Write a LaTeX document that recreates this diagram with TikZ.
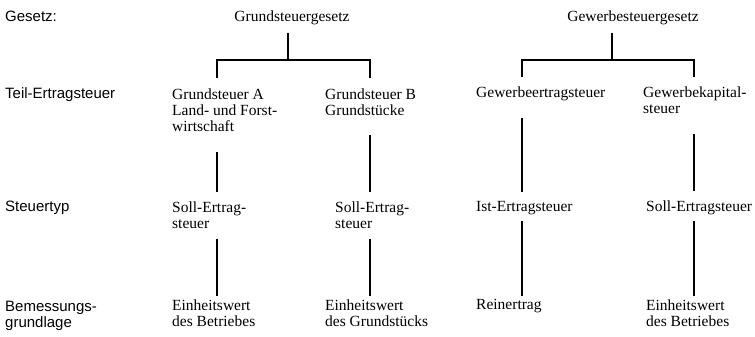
\documentclass[tikz,border=0pt]{standalone}
\usepackage{fontspec}
\setmainfont{Liberation Serif}
\newfontfamily\labelfont{Liberation Sans}
\begin{document}
\begin{tikzpicture}[x=1pt,y=-1pt,
    every node/.style={inner sep=0pt,anchor=base west,align=left,font=\fontsize{15.5}{16}\selectfont},
    rowlabel/.style={font=\labelfont\fontsize{15}{16}\selectfont},
    tie/.style={line width=1.1pt}]
    \useasboundingbox (0,0) rectangle (755,337);

    % row labels (base = last line)
    \node[rowlabel] (lgesetz) at (5,22) {Gesetz:};
    \node[rowlabel] (lteil) at (5,98) {Teil-Ertragsteuer};
    \node[rowlabel] (ltyp) at (5,211) {Steuertyp};
    \node[rowlabel] (lbem) at (5,327) {Bemessungs-\\grundlage};

    % laws
    \node[anchor=base] (gg) at (292,22) {Grundsteuergesetz};
    \node[anchor=base] (gw) at (633,22) {Gewerbesteuergesetz};

    % columns
    \coordinate (c1) at (217,0);
    \coordinate (c2) at (370,0);
    \coordinate (c3) at (522,0);
    \coordinate (c4) at (694,0);
    \coordinate (j1) at (288,60);
    \coordinate (j2) at (612,60);

    \node (ga) at (172,131) {Grundsteuer A\\Land- und Forst-\\wirtschaft};
    \node (gb) at (325,115) {Grundsteuer B\\Grundst\"ucke};
    \node (ge) at (476,97) {Gewerbeertragsteuer};
    \node (gk) at (643,113) {Gewerbekapital-\\steuer};

    \node (sa) at (172,228) {Soll-Ertrag-\\steuer};
    \node (sb) at (335,228) {Soll-Ertrag-\\steuer};
    \node (ie) at (476,211) {Ist-Ertragsteuer};
    \node (sk) at (646,211) {Soll-Ertragsteuer};

    \node (ea) at (172,326) {Einheitswert\\des Betriebes};
    \node (eb) at (325,326) {Einheitswert\\des Grundst\"ucks};
    \node (re) at (476,309) {Reinertrag};
    \node (ek) at (646,326) {Einheitswert\\des Betriebes};

    % tree
    \draw[tie,shorten <=7pt] (gg.south -| j1) -- (j1);
    \draw[tie,shorten <=10pt,shorten >=10pt] (ga.north -| c1) |- (j1) -| (gb.north -| c2);
    \draw[tie,shorten <=7pt] (gw.south -| j2) -- (j2);
    \draw[tie,shorten <=9pt,shorten >=9pt] (ge.north -| c3) |- (j2) -| (gk.north -| c4);

    \draw[tie,shorten <=21pt,shorten >=9pt] (ga.south -| c1) -- (sa.north -| c1);
    \draw[tie,shorten <=20pt,shorten >=9pt] (gb.south -| c2) -- (sb.north -| c2);
    \draw[tie,shorten <=17pt,shorten >=9pt] (ge.south -| c3) -- (ie.north -| c3);
    \draw[tie,shorten <=21pt,shorten >=9pt] (gk.south -| c4) -- (sk.north -| c4);

    \draw[tie,shorten <=11pt,shorten >=3pt] (sa.south -| c1) -- (ea.north -| c1);
    \draw[tie,shorten <=11pt,shorten >=3pt] (sb.south -| c2) -- (eb.north -| c2);
    \draw[tie,shorten <=6pt,shorten >=3pt] (ie.south -| c3) -- (re.north -| c3);
    \draw[tie,shorten <=6pt,shorten >=3pt] (sk.south -| c4) -- (ek.north -| c4);
\end{tikzpicture}
\end{document}
